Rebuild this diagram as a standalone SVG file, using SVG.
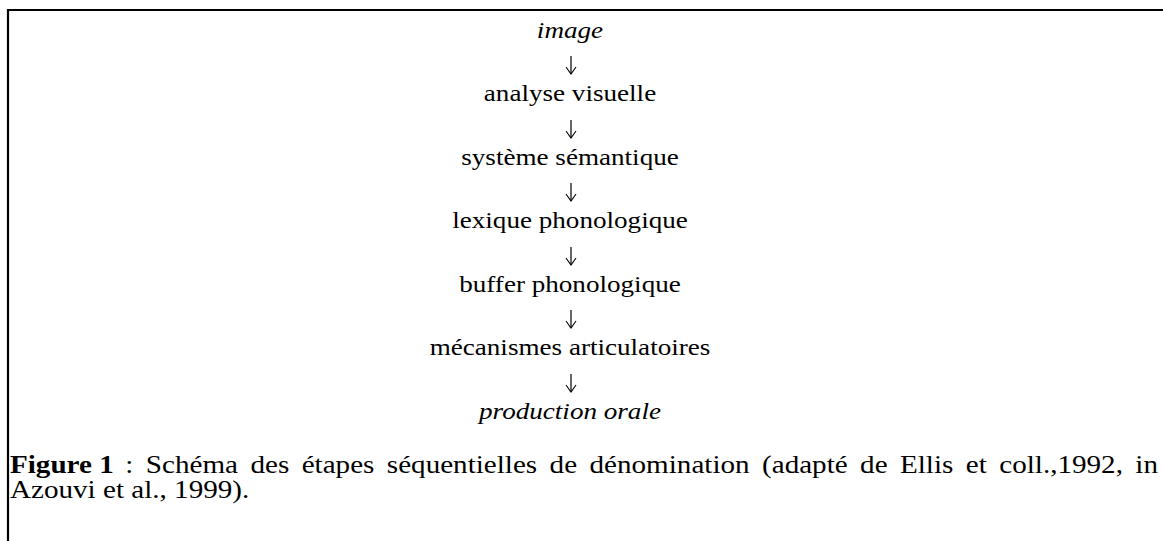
<svg xmlns="http://www.w3.org/2000/svg" width="1163" height="541" viewBox="0 0 1163 541">
  <style>
    text { font-family: "Liberation Serif", "Times New Roman", serif; fill: #000; }
    .step { font-size: 24px; text-anchor: middle; }
    .it { font-style: italic; }
    .cap { font-size: 26px; }
    .arrow { stroke: #000; stroke-width: 1.2; fill: none; }
  </style>
  <defs>
    <marker id="head" viewBox="0 0 10 12" refX="9" refY="6" markerWidth="10" markerHeight="12" markerUnits="userSpaceOnUse" orient="auto">
      <path d="M2,1 L9,6 L2,11" fill="none" stroke="#000" stroke-width="1.1"/>
    </marker>
  </defs>
  <rect width="1163" height="541" fill="#fff"/>

  <!-- frame: top and left rule -->
  <path d="M8,541 V10 H1163" fill="none" stroke="#000" stroke-width="2.2"/>

  <!-- step labels, stretched slightly wider than the natural face -->
  <g transform="translate(570,0) scale(1.13,1)">
    <g id="n-image"><text class="step it" x="0" y="38">image</text></g>
    <g id="n-analyse"><text class="step" x="0" y="101">analyse visuelle</text></g>
    <g id="n-semantique"><text class="step" x="0" y="165">système sémantique</text></g>
    <g id="n-lexique"><text class="step" x="0" y="228">lexique phonologique</text></g>
    <g id="n-buffer"><text class="step" x="0" y="292">buffer phonologique</text></g>
    <g id="n-mecanismes"><text class="step" x="0" y="355">mécanismes articulatoires</text></g>
    <g id="n-production"><text class="step it" x="0" y="419">production orale</text></g>
  </g>

  <g id="connectors">
    <line class="arrow" x1="571" y1="56" x2="571" y2="74" marker-end="url(#head)"/>
    <line class="arrow" x1="571" y1="120" x2="571" y2="138" marker-end="url(#head)"/>
    <line class="arrow" x1="571" y1="183" x2="571" y2="201" marker-end="url(#head)"/>
    <line class="arrow" x1="571" y1="247" x2="571" y2="265" marker-end="url(#head)"/>
    <line class="arrow" x1="571" y1="310" x2="571" y2="328" marker-end="url(#head)"/>
    <line class="arrow" x1="571" y1="374" x2="571" y2="392" marker-end="url(#head)"/>
  </g>

  <g id="caption" transform="translate(10,0) scale(1.12,1)">
    <text class="cap" x="0" y="473" font-weight="bold">Figure 1</text>
    <text class="cap" x="103" y="473" word-spacing="4.6">: Schéma des étapes séquentielles de dénomination (adapté de Ellis et coll.,1992, in</text>
    <text class="cap" x="0" y="498">Azouvi et al., 1999).</text>
  </g>
</svg>
